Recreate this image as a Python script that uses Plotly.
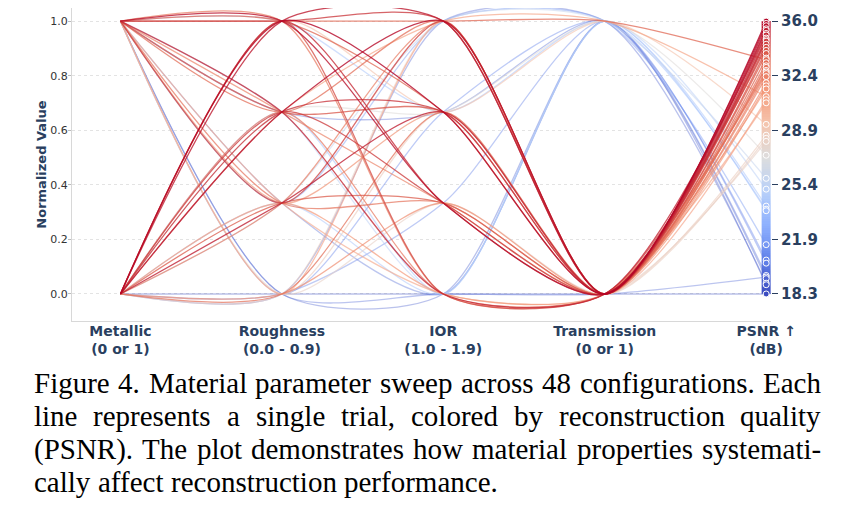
import plotly.graph_objects as go
import numpy as np

# ---------------- data ----------------
axis_labels = ["<b>Metallic</b><br><b>(0 or 1)</b>",
               "<b>Roughness</b><br><b>(0.0 - 0.9)</b>",
               "<b>IOR</b><br><b>(1.0 - 1.9)</b>",
               "<b>Transmission</b><br><b>(0 or 1)</b>",
               "<b>PSNR ↑</b><br><b>(dB)</b>"]

metallic = [0, 0, 1, 0, 0, 1, 0, 0, 1, 0, 1, 0, 1, 0, 1, 1,
            1, 0, 1, 0, 1, 0, 1, 0, 1, 0, 0, 1, 1, 0, 1, 0,
            1, 0, 0, 1, 0, 1, 0, 1, 1, 0, 1, 1, 1, 0, 1, 0]
roughness = [0.9, 0.6, 0.9, 0.9, 0.3, 0.6, 0.9, 0.6, 0.9, 0.6, 0.3, 0.9, 0.6, 0.3, 0.9, 0.9,
             0.6, 0.0, 0.3, 0.6, 0.9, 0.3, 0.6, 0.0, 0.3, 0.3, 0.6, 0.0, 0.3, 0.9, 0.0, 0.0,
             0.0, 0.6, 0.3, 0.6, 0.3, 0.9, 0.6, 0.3, 0.0, 0.0, 0.3, 0.0, 0.6, 0.0, 0.0, 0.0]
ior = [1.6, 1.9, 1.3, 1.9, 1.6, 1.0, 1.3, 1.6, 1.9, 1.3, 1.9, 1.0, 1.6, 1.3, 1.6, 1.9,
       1.9, 1.6, 1.3, 1.0, 1.0, 1.9, 1.3, 1.3, 1.6, 1.0, 1.9, 1.9, 1.0, 1.6, 1.6, 1.9,
       1.3, 1.6, 1.9, 1.0, 1.0, 1.6, 1.0, 1.9, 1.6, 1.3, 1.0, 1.0, 1.6, 1.9, 1.0, 1.0]
transmission = [0, 0, 0, 0, 0, 0, 0, 0, 0, 0, 0, 0, 0, 0, 0, 1,
                0, 0, 0, 0, 0, 0, 0, 0, 0, 0, 1, 0, 0, 1, 0, 0,
                0, 1, 1, 1, 1, 1, 1, 1, 1, 1, 1, 0, 1, 1, 1, 0]
psnr = [36.0, 35.85, 35.7, 35.5, 35.4, 35.2, 35.1, 34.9, 34.8, 34.7, 34.5, 34.3, 34.1, 33.9, 33.6, 33.5,
        33.3, 33.1, 33.0, 32.8, 32.7, 32.6, 32.4, 32.0, 31.8, 31.6, 31.1, 30.9, 30.7, 29.3, 28.6, 28.4,
        28.2, 27.3, 25.8, 25.1, 24.0, 23.8, 23.7, 21.5, 20.5, 20.3, 19.5, 19.4, 19.3, 19.0, 18.9, 18.3]

left_tick_labels = ["0.0", "0.2", "0.4", "0.6", "0.8", "1.0"]
psnr_tick_labels = ["18.3", "21.9", "25.4", "28.9", "32.4", "36.0"]
psnr_min, psnr_max = 18.3, 36.0

caption_lines = [
    ("Figure 4. Material parameter sweep across 48 configurations. Each", True),
    ("line represents a single trial, colored by reconstruction quality", True),
    ("(PSNR). The plot demonstrates how material properties systemati-", True),
    ("cally affect reconstruction performance.", False),
]

# ---------------- helpers ----------------
W, H = 849, 515
ML, MR, MT, MB = 64, 86, 0, 202
PW, PH = W - ML - MR, H - MT - MB

stops = [(0.0, (59, 76, 192)), (0.125, (98, 130, 234)), (0.25, (141, 176, 254)),
         (0.375, (184, 208, 249)), (0.5, (221, 221, 221)), (0.625, (245, 196, 173)),
         (0.75, (244, 154, 123)), (0.875, (222, 96, 77)), (1.0, (180, 4, 38))]


def coolwarm(t):
    t = min(max(t, 0.0), 1.0)
    for (a, ca), (b, cb) in zip(stops[:-1], stops[1:]):
        if t <= b:
            f = (t - a) / (b - a)
            return tuple(ca[k] + f * (cb[k] - ca[k]) for k in range(3))
    return stops[-1][1]


colorscale = [[s, "rgb(%d,%d,%d)" % c] for s, c in stops]

fig = go.Figure()

n = len(psnr)
norm_p = [(p - psnr_min) / (psnr_max - psnr_min) for p in psnr]
order = sorted(range(n), key=lambda i: psnr[i])
for i in order:
    yv = [metallic[i], roughness[i] / 0.9, (ior[i] - 1.0) / 0.9, transmission[i], norm_p[i]]
    r, g, b = coolwarm(norm_p[i])
    alpha = 0.35 + 0.45 * norm_p[i]
    fig.add_trace(go.Scatter(x=[0, 1, 2, 3, 4], y=yv, mode="lines",
                             line=dict(shape="spline", smoothing=0.75, width=1.3,
                                       color="rgba(%d,%d,%d,%.2f)" % (r, g, b, alpha)),
                             hoverinfo="skip", showlegend=False))

# colour bar drawn at the PSNR axis
edges = np.linspace(0, 1, 121)
mids = (edges[:-1] + edges[1:]) / 2
fig.add_trace(go.Heatmap(x=[3.972, 4.028], y=edges, z=[[m] for m in mids],
                         colorscale=colorscale, zmin=0, zmax=1, showscale=False,
                         hoverinfo="skip"))

fig.add_trace(go.Scatter(x=[4] * n, y=norm_p, mode="markers", yaxis="y2",
                         marker=dict(size=6, color=psnr, colorscale=colorscale,
                                     cmin=psnr_min, cmax=psnr_max,
                                     line=dict(color="white", width=1)),
                         hoverinfo="skip", showlegend=False))

yr = [-0.099, 1.048]
fig.update_layout(
    width=W, height=H,
    margin=dict(l=ML, r=MR, t=MT, b=MB),
    plot_bgcolor="white", paper_bgcolor="white",
    font=dict(family="DejaVu Sans", color="#2a3f5f"),
    showlegend=False,
    xaxis=dict(range=[-0.3, 4.03], tickvals=[0, 1, 2, 3, 4], ticktext=axis_labels,
               showgrid=False, zeroline=False, showline=True, linecolor="#d8d8d8",
               linewidth=1, ticks="", ticklabelstandoff=-3,
               tickfont=dict(size=14, color="#2a3f5f")),
    yaxis=dict(range=yr, tickvals=[0, 0.2, 0.4, 0.6, 0.8, 1.0], ticktext=left_tick_labels,
               showgrid=True, gridcolor="#e3e3e3", griddash="dot", gridwidth=1,
               zeroline=False, showline=True, linecolor="#d8d8d8", linewidth=1,
               ticks="outside", ticklen=3, tickcolor="#bbbbbb", ticklabelstandoff=-2,
               tickfont=dict(size=11, color="#333333"),
               title=dict(text="<b>Normalized Value</b>", standoff=0,
                          font=dict(size=13, color="#2a3f5f"))),
    yaxis2=dict(range=yr, overlaying="y", side="right", anchor="x",
                tickvals=[0, 0.2, 0.4, 0.6, 0.8, 1.0],
                ticktext=["<b>%s</b>" % t for t in psnr_tick_labels],
                showgrid=False, zeroline=False, showline=False,
                ticks="outside", ticklen=6, tickcolor="#2a3f5f",
                tickfont=dict(size=15, color="#2a3f5f")),
)

# ---------------- caption (justified, Times metrics) ----------------
tw = {' ': 250, '!': 333, '(': 333, ')': 333, ',': 250, '-': 333, '.': 250, ':': 278,
      'A': 722, 'B': 667, 'C': 667, 'D': 722, 'E': 611, 'F': 556, 'G': 722, 'H': 722, 'I': 333,
      'J': 389, 'K': 722, 'L': 611, 'M': 889, 'N': 722, 'O': 722, 'P': 556, 'Q': 722, 'R': 667,
      'S': 556, 'T': 611, 'U': 722, 'V': 722, 'W': 944, 'X': 722, 'Y': 722, 'Z': 611,
      'a': 444, 'b': 500, 'c': 444, 'd': 500, 'e': 444, 'f': 333, 'g': 500, 'h': 500, 'i': 278,
      'j': 278, 'k': 500, 'l': 278, 'm': 778, 'n': 500, 'o': 500, 'p': 500, 'q': 500, 'r': 333,
      's': 389, 't': 278, 'u': 500, 'v': 500, 'w': 722, 'x': 500, 'y': 500, 'z': 444}
FS = 29
X0, X1 = 25, 812
centers = [375, 408, 441, 474]


def wwidth(w):
    return sum(tw.get(c, 500) for c in w) / 1000.0 * FS


for (text, just), cy in zip(caption_lines, centers):
    words = text.split(" ")
    widths = [wwidth(w) for w in words]
    if just:
        gap = (X1 - X0 - sum(widths)) / (len(words) - 1)
    else:
        gap = 0.25 * FS
    x = X0
    for w, ww in zip(words, widths):
        fig.add_annotation(text=w, xref="paper", yref="paper",
                           x=(x - 1 - ML) / PW, y=(H - MB - cy) / PH,
                           xanchor="left", yanchor="middle", showarrow=False,
                           font=dict(family="Liberation Serif", size=FS, color="black"))
        x += ww + gap

fig.write_html("out.html")
